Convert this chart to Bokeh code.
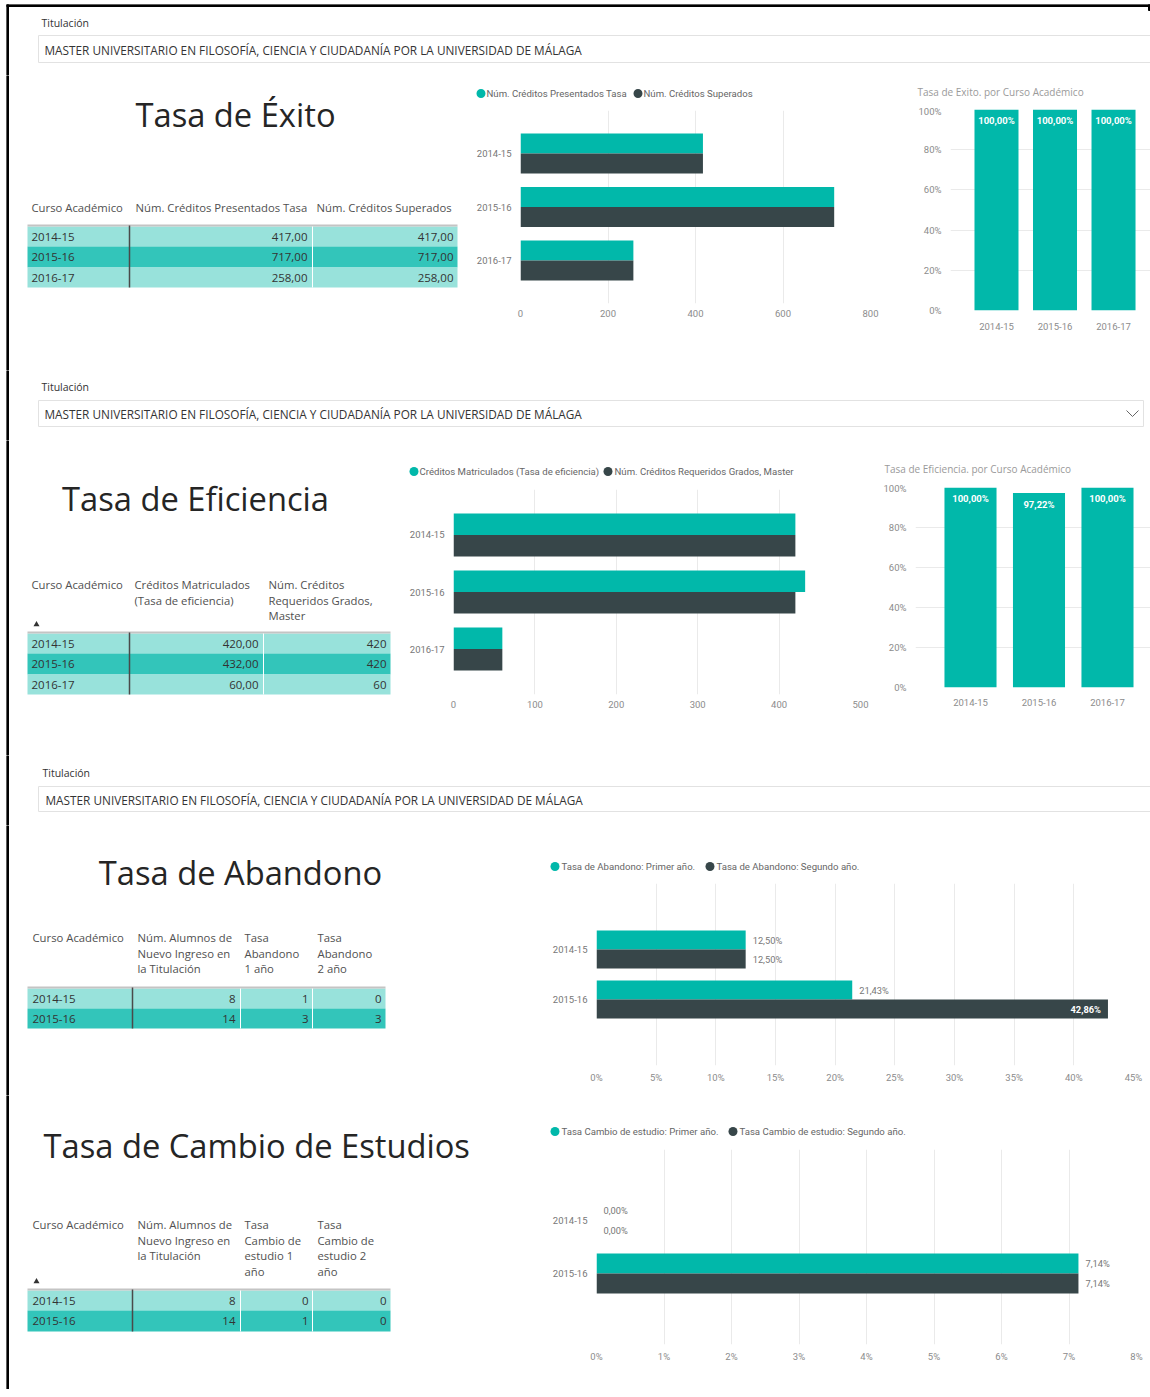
from bokeh.plotting import figure
from bokeh.layouts import column, row
from bokeh.models import (Range1d, FixedTicker, NumeralTickFormatter, ColumnDataSource, Spacer)
from bokeh.transform import dodge
from bokeh.core.properties import value
from bokeh.embed import file_html
from bokeh.resources import INLINE

# ---------------- data ----------------
titulacion_label = "Titulación"
titulacion = "MASTER UNIVERSITARIO EN FILOSOFÍA, CIENCIA Y CIUDADANÍA POR LA UNIVERSIDAD DE MÁLAGA"

exito_cursos = ["2014-15", "2015-16", "2016-17"]
exito_presentados = [417.0, 717.0, 258.0]
exito_superados = [417.0, 717.0, 258.0]
exito_tasa = [1.0, 1.0, 1.0]
exito_series = ["Núm. Créditos Presentados Tasa", "Núm. Créditos Superados"]
exito_headers = [["Curso Académico"], ["Núm. Créditos Presentados Tasa"], ["Núm. Créditos Superados"]]

efi_cursos = ["2014-15", "2015-16", "2016-17"]
efi_matriculados = [420.0, 432.0, 60.0]
efi_requeridos = [420, 420, 60]
efi_tasa = [1.0, 0.9722, 1.0]
efi_series = ["Créditos Matriculados (Tasa de eficiencia)", "Núm. Créditos Requeridos Grados, Master"]
efi_headers = [["Curso Académico"], ["Créditos Matriculados", "(Tasa de eficiencia)"],
               ["Núm. Créditos", "Requeridos Grados,", "Master"]]

aband_cursos = ["2014-15", "2015-16"]
aband_ingreso = [8, 14]
aband_n1 = [1, 3]
aband_n2 = [0, 3]
aband_tasa1 = [0.125, 0.2143]
aband_tasa2 = [0.125, 0.4286]
aband_series = ["Tasa de Abandono: Primer año.", "Tasa de Abandono: Segundo año."]
aband_headers = [["Curso Académico"], ["Núm. Alumnos de", "Nuevo Ingreso en", "la Titulación"],
                 ["Tasa", "Abandono", "1 año"], ["Tasa", "Abandono", "2 año"]]

cambio_cursos = ["2014-15", "2015-16"]
cambio_ingreso = [8, 14]
cambio_n1 = [0, 1]
cambio_n2 = [0, 0]
cambio_tasa1 = [0.0, 0.0714]
cambio_tasa2 = [0.0, 0.0714]
cambio_series = ["Tasa Cambio de estudio: Primer año.", "Tasa Cambio de estudio: Segundo año."]
cambio_headers = [["Curso Académico"], ["Núm. Alumnos de", "Nuevo Ingreso en", "la Titulación"],
                  ["Tasa", "Cambio de", "estudio 1", "año"], ["Tasa", "Cambio de", "estudio 2", "año"]]

col_titles = ["Tasa de Exito. por Curso Académico", "Tasa de Eficiencia. por Curso Académico"]

# ---------------- style ----------------
TEAL = "#01B8AA"
DARK = "#374649"
ROW_LIGHT = "#98E2DB"
ROW_DARK = "#33C5BA"
GRID = "#EAEAEA"
TICK = "#8C8C8C"
UI_FONT = "Open Sans"
CH_FONT = "Roboto"
W = 1142
TITLE_SIZE = 32.7


def dec2(v):
    return f"{v:.2f}".replace(".", ",")


def pct(v):
    return f"{v * 100:.2f}%".replace(".", ",")


def iso(p):
    return column(p)


def canvas(w, h, ext_left=0, ext_top=0):
    p = figure(width=w + ext_left, height=h + ext_top,
               x_range=Range1d(-ext_left, w), y_range=Range1d(h, -ext_top),
               x_axis_type=None, y_axis_type=None, output_backend="svg",
               toolbar_location=None, min_border=0)
    p.outline_line_color = None
    return p


def txt(p, x, y, s, size, color="#333333", align="left", font=UI_FONT, style="normal"):
    p.text(x=[x], y=[y], text=[s], text_font=value(font), text_font_size=f"{size}px",
           text_color=color, text_align=align, text_baseline="middle", text_font_style=style)


def header(h, label_xy, box_y, box_right, text_xy, chevron=None, top=False):
    p = canvas(W, h, ext_left=2, ext_top=4 if top else 0)
    p.quad(left=[-2], right=[0], top=[-4 if top else 0], bottom=[h], color="black")
    if top:
        p.quad(left=[-2], right=[W], top=[-4], bottom=[-2], color="black")
        p.quad(left=[W - 2], right=[W], top=[-4], bottom=[2], color="black")
    txt(p, label_xy[0], label_xy[1], titulacion_label, 10.5)
    p.quad(left=[30], right=[box_right], top=[box_y[0]], bottom=[box_y[1]],
           fill_color="white", line_color="#E2E2E2")
    txt(p, text_xy[0], text_xy[1], titulacion, 11.8)
    if chevron:
        p.line(x=chevron[0], y=chevron[1], line_color="#666666", line_width=1)
    return p


def left_panel(w, h):
    p = canvas(w, h, ext_left=2)
    p.quad(left=[-2], right=[0], top=[0], bottom=[h], color="black")
    return p


def draw_table(p, x0, x1, headers, col_x, head_y, line_y, edges, dark_sep, white_seps,
               cursos, value_cols, right_x, arrow=None):
    for hx, lines in zip(col_x, headers):
        for k, s in enumerate(lines):
            txt(p, hx, head_y + k * 15.5, s, 11.3, "#505050")
    if arrow:
        p.scatter(x=[arrow[0]], y=[arrow[1]], marker="triangle", size=6,
                  fill_color="#333333", line_color=None)
    n = len(cursos)
    shades = [ROW_DARK if i % 2 else ROW_LIGHT for i in range(n)]
    p.quad(left=[x0] * n, right=[x1] * n, top=edges[:-1], bottom=edges[1:],
           fill_color=shades, line_color=None)
    p.quad(left=[x0], right=[x1], top=[line_y - 1], bottom=[line_y + 1],
           fill_color="#C4C4C4", line_color=None)
    for sx in white_seps:
        p.segment(x0=[sx], y0=[edges[0]], x1=[sx], y1=[edges[-1]], line_color="white", line_width=1)
    p.segment(x0=[dark_sep], y0=[line_y], x1=[dark_sep], y1=[edges[-1]],
              line_color="#4A4A4A", line_width=1.5)
    for i in range(n):
        yc = (edges[i] + edges[i + 1]) / 2
        txt(p, col_x[0], yc, cursos[i], 11.5, "#333333")
        for vals, rx in zip(value_cols, right_x):
            txt(p, rx, yc, vals[i], 11.5, "#333333", align="right")


def make_legend(w, h, y, positions, names):
    p = canvas(w, h)
    for (cx, tx), name, color in zip(positions, names, (TEAL, DARK)):
        p.scatter(x=[cx], y=[y], marker="circle", size=9, fill_color=color, line_color=None)
        txt(p, tx, y, name, 9.6, "#666666", font=CH_FONT)
    return p


def title_strip(w, h, xy, title):
    p = canvas(w, h)
    txt(p, xy[0], xy[1], title, 10, "#9A9A9A")
    return p


def style_axes(p, y_standoff, x_standoff):
    for ax in p.axis:
        ax.axis_line_color = None
        ax.major_tick_line_color = None
        ax.minor_tick_line_color = None
        ax.major_tick_out = 0
        ax.major_tick_in = 0
        ax.minor_tick_out = 0
        ax.minor_tick_in = 0
        ax.major_label_text_font = CH_FONT
        ax.major_label_text_font_size = "9.5px"
        ax.major_label_text_color = TICK
    p.yaxis.major_label_standoff = y_standoff
    p.xaxis.major_label_standoff = x_standoff


def hbar_chart(w, h, fl, fr, ft, fb, cursos, s1, s2, x_end, x_step, is_pct,
               half, pad, labels=False):
    n = len(cursos)
    p = figure(width=w, height=h, x_range=Range1d(0, x_end), y_range=Range1d(n - 1 + pad, -pad),
               min_border_left=fl, min_border_right=fr, min_border_top=ft, min_border_bottom=fb,
               output_backend="svg", toolbar_location=None)
    p.outline_line_color = None
    src = ColumnDataSource(dict(idx=list(range(n)), a=s1, b=s2))
    p.hbar(y=dodge("idx", -half / 2), left=0, right="a", height=half,
           fill_color=TEAL, line_color=None, source=src)
    p.hbar(y=dodge("idx", half / 2), left=0, right="b", height=half,
           fill_color=DARK, line_color=None, source=src)
    nt = int(round(x_end / x_step))
    p.xaxis.ticker = FixedTicker(ticks=[round(i * x_step, 6) for i in range(nt + 1)])
    if is_pct:
        p.xaxis.formatter = NumeralTickFormatter(format="0%")
    p.yaxis.ticker = FixedTicker(ticks=list(range(n)))
    p.yaxis.major_label_overrides = {i: c for i, c in enumerate(cursos)}
    style_axes(p, 9, 6)
    p.yaxis.major_label_text_color = "#777777"
    p.ygrid.grid_line_color = None
    p.xgrid.grid_line_color = GRID
    if labels:
        out = dict(x=[], y=[], t=[])
        ins = dict(x=[], y=[], t=[])
        for series, off in ((s1, -half / 2), (s2, half / 2)):
            for i, v in enumerate(series):
                d = ins if (x_end - v) / x_end < 0.06 else out
                d["x"].append(v)
                d["y"].append(i + off)
                d["t"].append(pct(v))
        p.text(x="x", y="y", text="t", source=ColumnDataSource(out), x_offset=7,
               text_align="left", text_baseline="middle", text_color="#777777",
               text_font=value(CH_FONT), text_font_size="9.3px")
        p.text(x="x", y="y", text="t", source=ColumnDataSource(ins), x_offset=-7,
               text_align="right", text_baseline="middle", text_color="white",
               text_font=value(CH_FONT), text_font_size="9.3px", text_font_style="bold")
    return p


def col_chart(w, h, fl, ft, fb, cursos, vals, x_lo, x_hi, bar_w, x_standoff):
    n = len(cursos)
    p = figure(width=w, height=h, x_range=Range1d(x_lo, x_hi), y_range=Range1d(0, 1),
               min_border_left=fl, min_border_right=0, min_border_top=ft, min_border_bottom=fb,
               output_backend="svg", toolbar_location=None)
    p.outline_line_color = None
    src = ColumnDataSource(dict(idx=list(range(n)), v=vals, lbl=[pct(v) for v in vals]))
    p.vbar(x="idx", top="v", bottom=0, width=bar_w, fill_color=TEAL, line_color=None, source=src)
    p.text(x="idx", y="v", text="lbl", y_offset=11, text_align="center", text_baseline="middle",
           text_color="white", text_font=value(CH_FONT), text_font_size="9.5px",
           text_font_style="bold", source=src)
    p.xaxis.ticker = FixedTicker(ticks=list(range(n)))
    p.xaxis.major_label_overrides = {i: c for i, c in enumerate(cursos)}
    p.yaxis.ticker = FixedTicker(ticks=[0, 0.2, 0.4, 0.6, 0.8, 1.0])
    p.yaxis.formatter = NumeralTickFormatter(format="0%")
    style_axes(p, 9, x_standoff)
    p.xgrid.grid_line_color = None
    p.ygrid.grid_line_color = GRID
    return p


# ---------------- Section 1: Tasa de Éxito ----------------
h1 = header(67, (33, 14), (27, 54), W + 2, (36, 41), top=True)
l1 = left_panel(457, 295)
txt(l1, 227, 39, "Tasa de Éxito", TITLE_SIZE, "#252525", align="center")
draw_table(l1, 19, 449, exito_headers, [23, 127, 308], 132, 150, [151, 171, 192, 212], 121, [304],
           exito_cursos, [[dec2(v) for v in exito_presentados], [dec2(v) for v in exito_superados]],
           [299, 445])
g1 = make_legend(425, 30, 18, [(15.5, 21), (172.5, 178)], exito_series)
b1 = hbar_chart(425, 265, 55, 20, 5, 67, exito_cursos, exito_presentados, exito_superados,
                800, 200, False, 0.374, 0.803)
t1 = title_strip(260, 30, (27, 16), col_titles[0])
c1 = col_chart(260, 265, 60, 4, 60, exito_cursos, exito_tasa, -0.786, 2.632, 0.752, 12)
sec1 = column(iso(h1), row(iso(l1), column(iso(g1), iso(b1)), column(iso(t1), iso(c1))))

# ---------------- Section 2: Tasa de Eficiencia ----------------
h2 = header(70, (33, 16), (30, 56), 1135, (36, 43),
            chevron=([1118, 1124, 1130], [40, 46, 40]))
l2 = left_panel(392, 315)
txt(l2, 187, 58, "Tasa de Eficiencia", TITLE_SIZE, "#252525", align="center")
draw_table(l2, 19, 382, efi_headers, [23, 126, 260], 144, 192, [193, 213, 234, 254], 121, [255],
           efi_cursos, [[dec2(v) for v in efi_matriculados], [str(v) for v in efi_requeridos]],
           [250, 378], arrow=(28, 184))
g2 = make_legend(470, 42, 31, [(13.5, 19), (207.5, 214)], efi_series)
b2 = hbar_chart(470, 273, 53, 10, 7, 61, efi_cursos, efi_matriculados, efi_requeridos,
                500, 100, False, 0.377, 0.798)
t2 = title_strip(280, 42, (14, 28), col_titles[1])
c2 = col_chart(280, 273, 45, 5, 68, efi_cursos, efi_tasa, -0.803, 2.628, 0.76, 11)
sec2 = column(iso(h2), row(iso(l2), column(iso(g2), iso(b2)), column(iso(t2), iso(c2))))

# ---------------- Section 3: Tasa de Abandono ----------------
h3 = header(70, (34, 17), (31, 56), W + 2, (37, 44))
l3 = left_panel(532, 270)
txt(l3, 232, 47, "Tasa de Abandono", TITLE_SIZE, "#252525", align="center")
draw_table(l3, 19, 377, aband_headers, [24, 129, 236, 309], 112, 162, [163, 183, 203], 124, [232, 304],
           aband_cursos, [[str(v) for v in aband_ingreso], [str(v) for v in aband_n1],
                          [str(v) for v in aband_n2]], [227, 300, 373])
g3 = make_legend(610, 50, 41, [(14.5, 21), (169.5, 176)], aband_series)
b3 = hbar_chart(610, 220, 56, 17, 8, 30, aband_cursos, aband_tasa1, aband_tasa2,
                0.45, 0.05, True, 0.38, 1.32, labels=True)
sec3 = column(iso(h3), row(iso(l3), column(iso(g3), iso(b3))))

# ---------------- Section 4: Tasa de Cambio de Estudios ----------------
l4 = left_panel(532, 294)
txt(l4, 35, 50, "Tasa de Cambio de Estudios", TITLE_SIZE, "#252525")
draw_table(l4, 19, 382, cambio_headers, [24, 129, 236, 309], 129, 194, [195, 215, 236], 124, [232, 304],
           cambio_cursos, [[str(v) for v in cambio_ingreso], [str(v) for v in cambio_n1],
                           [str(v) for v in cambio_n2]], [227, 300, 378], arrow=(28, 186))
g4 = make_legend(610, 45, 36, [(14.5, 21), (192.5, 199)], cambio_series)
b4 = hbar_chart(610, 249, 56, 14, 9, 45, cambio_cursos, cambio_tasa1, cambio_tasa2,
                0.08, 0.01, True, 0.377, 1.34, labels=True)
sec4 = row(iso(l4), column(iso(g4), iso(b4)))

page = row(Spacer(width=6), column(Spacer(height=4), sec1, sec2, sec3, sec4))

with open("out.html", "w", encoding="utf-8") as f:
    f.write(file_html(page, INLINE, title="Tasas"))
